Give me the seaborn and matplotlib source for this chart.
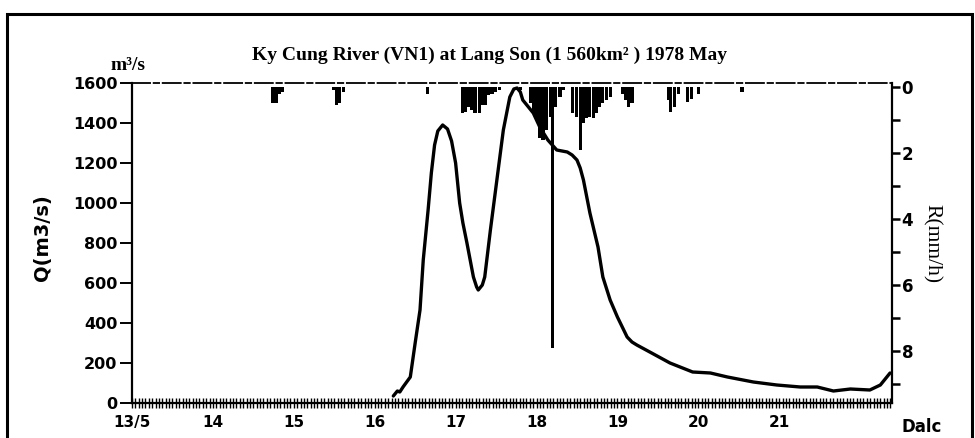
import numpy as np
import pandas as pd
import matplotlib
matplotlib.use("Agg")
import matplotlib.pyplot as plt
import seaborn as sns
from matplotlib.patches import Rectangle
from matplotlib.ticker import FixedLocator

# ---- data ----
flow_day = [16.23, 16.28, 16.31, 16.35, 16.44, 16.50, 16.56, 16.60, 16.66, 16.70,
            16.74, 16.78, 16.84, 16.90, 16.95, 17.00, 17.05, 17.09, 17.14, 17.18,
            17.22, 17.26, 17.28, 17.33, 17.36, 17.43, 17.51, 17.59, 17.67, 17.72,
            17.76, 17.80, 17.83, 17.96, 18.04, 18.14, 18.25, 18.38, 18.44, 18.50,
            18.54, 18.58, 18.66, 18.76, 18.82, 18.91, 19.00, 19.12, 19.18, 19.24,
            19.40, 19.65, 19.93, 20.15, 20.36, 20.68, 20.97, 21.26, 21.47, 21.67,
            21.88, 22.12, 22.25, 22.37]
flow_q = [35, 60, 55, 80, 130, 300, 465, 715, 965, 1150,
          1290, 1360, 1390, 1370, 1310, 1200, 1000, 900, 800, 715,
          630, 580, 565, 590, 630, 865, 1115, 1365, 1530, 1570,
          1575, 1555, 1515, 1450, 1380, 1315, 1265, 1255, 1240, 1215,
          1175, 1115, 950, 780, 630, 515, 430, 330, 305, 290,
          255, 200, 155, 150, 130, 105, 90, 80, 80, 60,
          70, 65, 90, 150]

rain_day = [14.74, 14.78, 14.82, 14.86,
            15.49, 15.53, 15.57, 15.61,
            16.65,
            17.08, 17.12, 17.16, 17.20, 17.24, 17.29, 17.33, 17.37, 17.41, 17.45, 17.49, 17.54,
            17.80,
            17.92, 17.96, 18.00, 18.04, 18.08, 18.12, 18.17, 18.20, 18.24, 18.29, 18.33,
            18.45, 18.49, 18.54, 18.58, 18.62, 18.66, 18.70, 18.74, 18.78, 18.82, 18.87, 18.91,
            19.06, 19.10, 19.14, 19.18,
            19.63, 19.66, 19.70, 19.75, 19.87, 19.91, 20.00,
            20.54]
rain_mm = [0.5, 0.5, 0.2, 0.15,
           0.1, 0.55, 0.5, 0.15,
           0.2,
           0.8, 0.75, 0.6, 0.7, 0.8, 0.8, 0.55, 0.55, 0.25, 0.2, 0.15, 0.1,
           0.1,
           0.5, 0.8, 1.0, 1.55, 1.6, 1.3, 0.9, 7.9, 0.6, 0.3, 0.1,
           0.8, 0.9, 1.9, 1.1, 0.95, 0.9, 0.95, 0.8, 0.6, 0.5, 0.4, 0.3,
           0.2, 0.4, 0.6, 0.5,
           0.4, 0.75, 0.6, 0.2, 0.45, 0.35, 0.2,
           0.15]

day_ticks = [13, 14, 15, 16, 17, 18, 19, 20, 21]
day_labels = ["13/5", "14", "15", "16", "17", "18", "19", "20", "21"]
q_ticks = [0, 200, 400, 600, 800, 1000, 1200, 1400, 1600]
r_ticks = [0, 2, 4, 6, 8]
r_minor = [1, 3, 5, 7, 9]

title = "Ky Cung River (VN1) at Lang Son (1 560km\u00b2 ) 1978 May"

# ---- style ----
sns.set_style("white")
plt.rcParams["font.family"] = ["DejaVu Sans"]
plt.rcParams["text.color"] = "black"
plt.rcParams["axes.labelcolor"] = "black"
plt.rcParams["xtick.color"] = "black"
plt.rcParams["ytick.color"] = "black"
plt.rcParams["axes.edgecolor"] = "black"
SERIF = ["Liberation Serif", "DejaVu Serif"]

W, H = 975, 438
fig = plt.figure(figsize=(W / 100, H / 100), dpi=100)

def fx(px):
    return px / W

def fy(py):
    return 1 - py / H

ax = fig.add_axes([fx(132), fy(403), fx(892) - fx(132), fy(83) - fy(403)])

df = pd.DataFrame({"day": flow_day, "Q": flow_q})
sns.lineplot(data=df, x="day", y="Q", ax=ax, color="black", linewidth=2.4,
             sort=False, estimator=None)
ax.lines[-1].set_solid_joinstyle("round")
ax.lines[-1].set_solid_capstyle("round")

ax.set_xlim(13, 22.394)
ax.set_ylim(0, 1600)
ax.set_xlabel("")
ax.set_ylabel("")

ax.set_xticks(day_ticks)
ax.set_xticklabels(day_labels, fontsize=11, fontweight="bold", color="black")
ax.xaxis.set_minor_locator(FixedLocator(np.arange(13, 22.394, 1 / 24)))
ax.tick_params(axis="x", which="both", direction="inout", length=7, width=1.0,
               pad=5, bottom=True, color="black", labelcolor="black")
ax.set_yticks(q_ticks)
ax.set_yticklabels([str(v) for v in q_ticks], fontsize=11.5, fontweight="bold",
                   color="black")
ax.tick_params(axis="y", which="major", direction="out", length=9, width=1.4,
               pad=1.5, left=True, color="black", labelcolor="black")

for s in ["left", "bottom"]:
    ax.spines[s].set_color("black")
    ax.spines[s].set_linewidth(1.6)
ax.spines["right"].set_visible(False)
ax.spines["top"].set_color("black")
ax.spines["top"].set_linewidth(1.3)
ax.spines["top"].set_linestyle((0, (10, 2, 3, 2)))

ax2 = ax.twinx()
ax2.bar(rain_day, rain_mm, width=0.038, color="black", align="center", linewidth=0)
ax2.set_ylim(9.58, -0.12)
ax2.set_yticks(r_ticks)
ax2.set_yticklabels([str(v) for v in r_ticks], fontsize=12, fontweight="bold",
                    color="black")
ax2.yaxis.set_minor_locator(FixedLocator(r_minor))
ax2.tick_params(axis="y", which="both", direction="out", length=6, width=1.8,
                pad=1, right=True, color="black", labelcolor="black")
for s in ["left", "bottom", "top"]:
    ax2.spines[s].set_visible(False)
ax2.spines["right"].set_color("black")
ax2.spines["right"].set_linewidth(1.6)
ax2.grid(False)
ax.grid(False)

# ---- texts ----
fig.text(fx(490), fy(55), title, ha="center", va="center", fontsize=14,
         fontweight="bold", family=SERIF, color="black")
fig.text(fx(128), fy(65), "m\u00b3/s", ha="center", va="center", fontsize=14,
         fontweight="bold", family=SERIF, color="black")
fig.text(fx(42), fy(238), "Q(m3/s)", ha="center", va="center", rotation=90,
         fontsize=14, fontweight="bold", color="black")
fig.text(fx(932), fy(244), "R(mm/h)", ha="center", va="center", rotation=270,
         fontsize=15.5, family=SERIF, color="black")
fig.text(fx(922), fy(427), "Dalc", ha="center", va="center", fontsize=12,
         fontweight="bold", color="black")

# ---- outer frame ----
fig.patches.append(Rectangle((fx(7), -0.05), fx(972) - fx(7), fy(14) + 0.05,
                             transform=fig.transFigure, fill=False,
                             edgecolor="black", linewidth=2.2))

fig.savefig("out.png", dpi=100)
